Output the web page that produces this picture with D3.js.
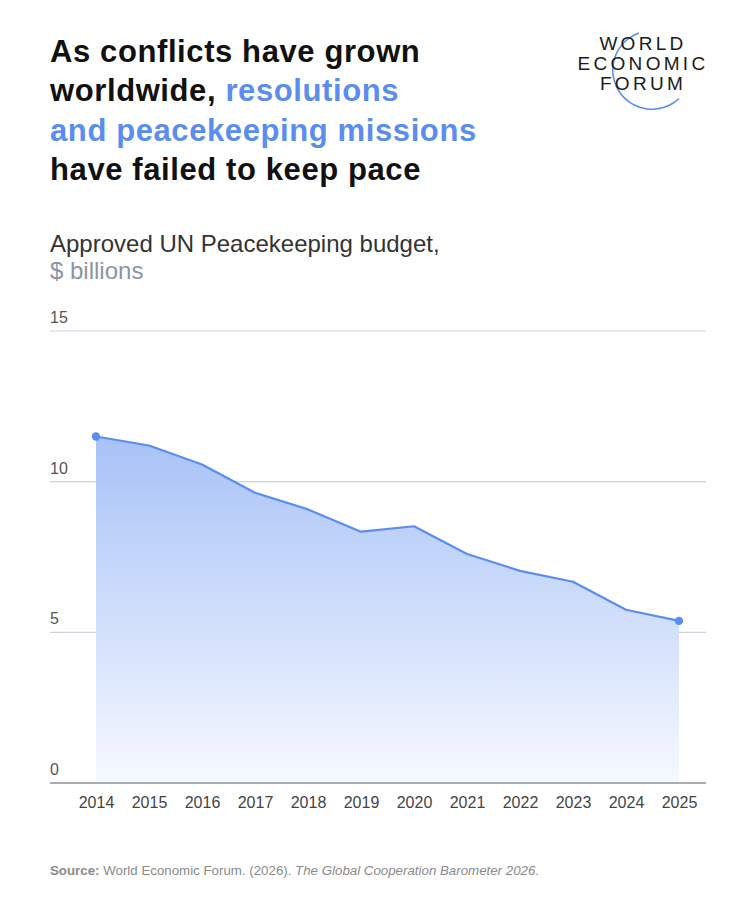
<!DOCTYPE html>
<html>
<head>
<meta charset="utf-8">
<script src="https://cdn.jsdelivr.net/npm/d3@7"></script>
<style>
  body { margin: 0; background: #fff; }
  svg { display: block; font-family: "Liberation Sans", Arial, sans-serif; }
</style>
</head>
<body>
<div class="root"></div>
<script>
const width = 750;
const height = 912;

const years = [2014, 2015, 2016, 2017, 2018, 2019, 2020, 2021, 2022, 2023, 2024, 2025];
const budget = [11.5, 11.2, 10.57, 9.63, 9.08, 8.34, 8.52, 7.6, 7.04, 6.68, 5.75, 5.38];
const yTicks = [0, 5, 10, 15];

const blue = "#5b8def";

const svg = d3
  .select(".root")
  .append("svg")
  .attr("width", width)
  .attr("height", height);

// title
const titleLines = [
  [["As conflicts have grown", "#111"]],
  [["worldwide, ", "#111"], ["resolutions", blue]],
  [["and peacekeeping missions", blue]],
  [["have failed to keep pace", "#111"]],
];
const title = svg.append("text")
  .attr("font-size", 31)
  .attr("font-weight", "bold")
  .attr("letter-spacing", 0.6);
titleLines.forEach((line, i) => {
  line.forEach((part, j) => {
    const t = title.append("tspan").attr("fill", part[1]).text(part[0]);
    if (j === 0) t.attr("x", 50).attr("y", 62 + i * 39.3);
  });
});

// subtitle
svg.append("text").attr("x", 50).attr("y", 252)
  .attr("font-size", 24).attr("fill", "#333")
  .text("Approved UN Peacekeeping budget,");
svg.append("text").attr("x", 50).attr("y", 279)
  .attr("font-size", 24).attr("fill", "#8b93a5")
  .text("$ billions");

// logo
const logo = svg.append("g");
logo.append("path")
  .attr("transform", "translate(652,70)")
  .attr("d", d3.arc()({ innerRadius: 38.5, outerRadius: 40, startAngle: -0.34, endAngle: -3.9 }))
  .attr("fill", blue);
[["WORLD", 50], ["ECONOMIC", 70], ["FORUM", 90]].forEach(([w, y]) => {
  logo.append("text").attr("x", 643).attr("y", y)
    .attr("text-anchor", "middle")
    .attr("font-size", 19).attr("letter-spacing", 3.3)
    .attr("fill", "#1a1a1a")
    .text(w);
});

// chart
const x = d3.scalePoint().domain(years).range([96, 679]);
const y = d3.scaleLinear().domain([0, 15]).range([783, 331]);

const grad = svg.append("defs").append("linearGradient")
  .attr("id", "fade").attr("x1", 0).attr("x2", 0).attr("y1", 0).attr("y2", 1);
grad.append("stop").attr("offset", "0%").attr("stop-color", "#a8c2f7");
grad.append("stop").attr("offset", "100%").attr("stop-color", "#f6f9ff");

// gridlines
svg.append("g")
  .selectAll("line")
  .data(yTicks.filter((d) => d > 0))
  .join("line")
  .attr("x1", 50).attr("x2", 706)
  .attr("y1", (d) => y(d)).attr("y2", (d) => y(d))
  .attr("stroke", "#cfd2dc").attr("stroke-width", 1.2);

svg.append("g")
  .selectAll("text")
  .data(yTicks)
  .join("text")
  .attr("x", 50).attr("y", (d) => y(d) - 8)
  .attr("font-size", 16).attr("fill", "#555")
  .text((d) => d);

const series = years.map((yr, i) => ({ year: yr, value: budget[i] }));

svg.append("path")
  .datum(series)
  .attr("fill", "url(#fade)")
  .attr("d", d3.area().x((d) => x(d.year)).y0(y(0)).y1((d) => y(d.value)));

svg.append("path")
  .datum(series)
  .attr("fill", "none")
  .attr("stroke", blue)
  .attr("stroke-width", 2.2)
  .attr("stroke-linejoin", "round")
  .attr("d", d3.line().x((d) => x(d.year)).y((d) => y(d.value)));

svg.append("g")
  .selectAll("circle")
  .data([series[0], series[series.length - 1]])
  .join("circle")
  .attr("cx", (d) => x(d.year)).attr("cy", (d) => y(d.value))
  .attr("r", 4.2).attr("fill", blue);

// baseline + x axis
const xAxis = svg.append("g")
  .attr("transform", `translate(0,${y(0)})`)
  .call(d3.axisBottom(x).tickSize(0).tickPadding(14));
xAxis.select(".domain").remove();
xAxis.selectAll("text")
  .attr("font-family", "Liberation Sans, Arial, sans-serif")
  .attr("font-size", 16).attr("fill", "#444");
svg.append("line")
  .attr("x1", 50).attr("x2", 706)
  .attr("y1", y(0)).attr("y2", y(0))
  .attr("stroke", "#8e9097").attr("stroke-width", 1.5);

// source
const src = svg.append("text").attr("x", 50).attr("y", 875)
  .attr("font-size", 13.3).attr("fill", "#8a8a8a");
src.append("tspan").attr("font-weight", "bold").text("Source:");
src.append("tspan").text(" World Economic Forum. (2026). ");
src.append("tspan").attr("font-style", "italic").text("The Global Cooperation Barometer 2026");
src.append("tspan").text(".");
</script>
</body>
</html>
